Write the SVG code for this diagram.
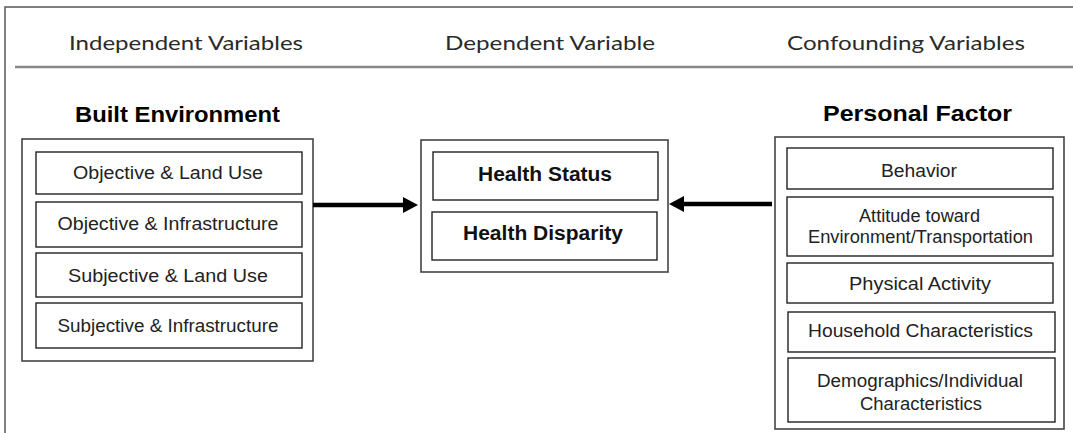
<svg xmlns="http://www.w3.org/2000/svg" width="1073" height="433" viewBox="0 0 1073 433">
  <style>
    .frame { fill: none; stroke: #555; stroke-width: 1.5; }
    .outer { fill: none; stroke: #444; stroke-width: 1.6; }
    .inner { fill: none; stroke: #222; stroke-width: 1.4; }
    .hdr { font-family: "Lato", "DejaVu Sans", sans-serif; font-weight: 400; font-size: 19px; fill: #2a2a2a; text-anchor: middle; }
    .ttl { font-family: "Liberation Sans", Arial, sans-serif; font-weight: bold; font-size: 22px; fill: #000; text-anchor: middle; }
    .item { font-family: "Liberation Sans", Arial, sans-serif; font-size: 17.5px; fill: #222; text-anchor: middle; }
    .bitem { font-family: "Liberation Sans", Arial, sans-serif; font-weight: bold; font-size: 20px; fill: #111; text-anchor: middle; }
    .conn { stroke: #000; stroke-width: 4.5; fill: none; }
    .head { fill: #000; }
  </style>
  <rect x="0" y="0" width="1073" height="433" fill="#fff"/>

  <g id="frame">
    <path class="frame" d="M5,433 V7 H1073"/>
    <line x1="15" y1="67" x2="1073" y2="67" stroke="#888" stroke-width="2.5"/>
  </g>

  <g id="headers">
    <text class="hdr" x="186" y="50" textLength="234" lengthAdjust="spacingAndGlyphs">Independent Variables</text>
    <text class="hdr" x="550" y="50" textLength="210" lengthAdjust="spacingAndGlyphs">Dependent Variable</text>
    <text class="hdr" x="906" y="50" textLength="238" lengthAdjust="spacingAndGlyphs">Confounding Variables</text>
  </g>

  <g id="built-environment">
    <text class="ttl" x="177.5" y="122" textLength="205" lengthAdjust="spacingAndGlyphs">Built Environment</text>
    <rect class="outer" x="22" y="139" width="291" height="222"/>
    <rect class="inner" x="36" y="152" width="266" height="42"/>
    <text class="item" x="168" y="179" textLength="190" lengthAdjust="spacingAndGlyphs">Objective &amp; Land Use</text>
    <rect class="inner" x="36" y="202" width="266" height="45"/>
    <text class="item" x="168" y="230" textLength="221" lengthAdjust="spacingAndGlyphs">Objective &amp; Infrastructure</text>
    <rect class="inner" x="36" y="253" width="266" height="44"/>
    <text class="item" x="168" y="282" textLength="200" lengthAdjust="spacingAndGlyphs">Subjective &amp; Land Use</text>
    <rect class="inner" x="36" y="303" width="266" height="45"/>
    <text class="item" x="168" y="332" textLength="221" lengthAdjust="spacingAndGlyphs">Subjective &amp; Infrastructure</text>
  </g>

  <g id="health">
    <rect class="outer" x="421" y="140" width="247" height="132"/>
    <rect class="inner" x="433" y="152" width="225" height="48"/>
    <text class="bitem" x="545" y="181" textLength="134" lengthAdjust="spacingAndGlyphs">Health Status</text>
    <rect class="inner" x="432" y="212" width="225" height="48"/>
    <text class="bitem" x="543" y="240" textLength="160" lengthAdjust="spacingAndGlyphs">Health Disparity</text>
  </g>

  <g id="personal-factor">
    <text class="ttl" x="917.5" y="121" textLength="189" lengthAdjust="spacingAndGlyphs">Personal Factor</text>
    <rect class="outer" x="775" y="137" width="289" height="292"/>
    <rect class="inner" x="787" y="148" width="266" height="41"/>
    <text class="item" x="919" y="177" textLength="76" lengthAdjust="spacingAndGlyphs">Behavior</text>
    <rect class="inner" x="787" y="197" width="266" height="59"/>
    <text class="item" x="919.5" y="222" textLength="121" lengthAdjust="spacingAndGlyphs">Attitude toward</text>
    <text class="item" x="920.5" y="243" textLength="225" lengthAdjust="spacingAndGlyphs">Environment/Transportation</text>
    <rect class="inner" x="787" y="263" width="266" height="40"/>
    <text class="item" x="920" y="290" textLength="142" lengthAdjust="spacingAndGlyphs">Physical Activity</text>
    <rect class="inner" x="788" y="312" width="267" height="40"/>
    <text class="item" x="920.5" y="337" textLength="225" lengthAdjust="spacingAndGlyphs">Household Characteristics</text>
    <rect class="inner" x="788" y="358" width="267" height="64"/>
    <text class="item" x="920" y="387" textLength="206" lengthAdjust="spacingAndGlyphs">Demographics/Individual</text>
    <text class="item" x="921" y="410" textLength="122" lengthAdjust="spacingAndGlyphs">Characteristics</text>
  </g>

  <g id="connectors">
    <line class="conn" x1="313" y1="205" x2="404" y2="205"/>
    <polygon class="head" points="403,197 418,205 403,213"/>
    <line class="conn" x1="772" y1="204" x2="683" y2="204"/>
    <polygon class="head" points="684,196 669,204 684,212"/>
  </g>
</svg>
